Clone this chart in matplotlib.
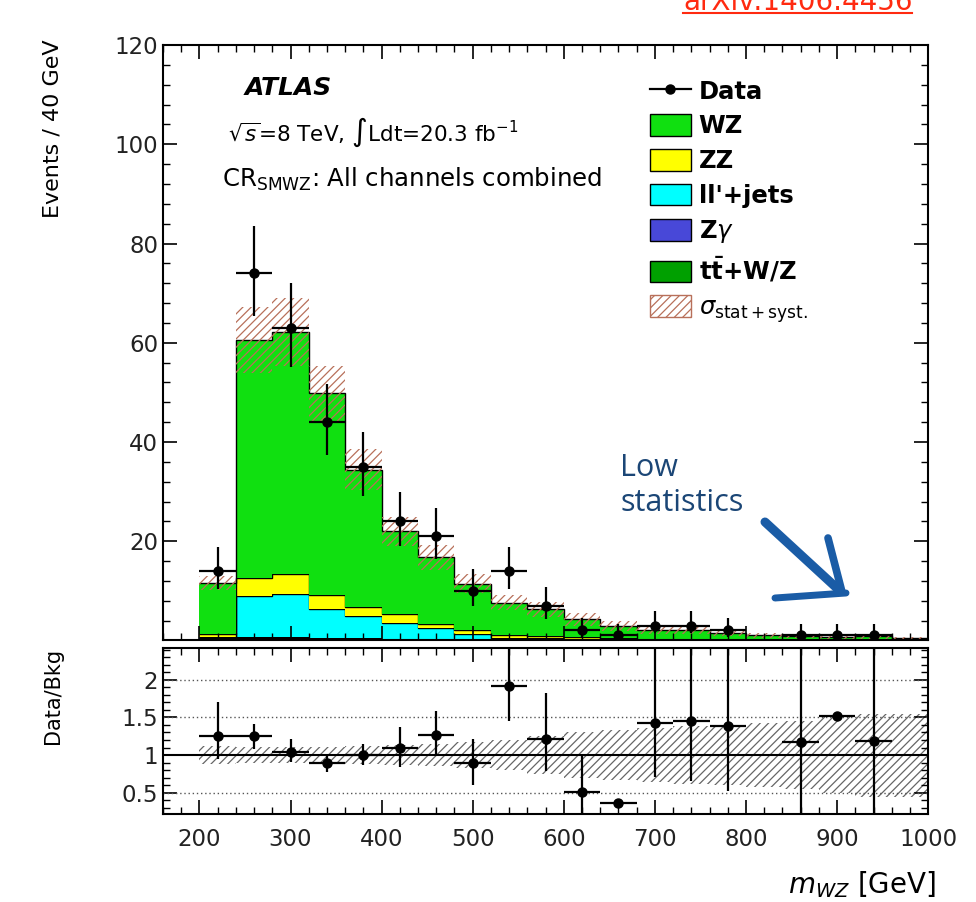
import matplotlib
matplotlib.use("Agg")
import matplotlib.pyplot as plt
import numpy as np
from matplotlib.patches import Patch
from matplotlib.lines import Line2D

plt.rcParams['font.family'] = ['DejaVu Sans']
plt.rcParams['mathtext.fontset'] = 'dejavusans'
plt.rcParams['hatch.linewidth'] = 0.9

# --- binning (m_WZ, 40 GeV bins) ---
edges = np.arange(200, 1040, 40)
centers = edges[:-1] + 20

# --- stacked predictions (events / bin), bottom to top ---
ttv = [0.3, 0.5, 0.5, 0.4, 0.3, 0.3, 0.25, 0.2, 0.15, 0.12, 0.1, 0.08, 0.07, 0.06, 0.05, 0.04, 0.04, 0.03, 0.03, 0.02]
zgam = [0.1, 0.2, 0.2, 0.15, 0.1, 0.08, 0.05, 0.04, 0.03, 0.02, 0.02, 0.01, 0.01, 0.01, 0.01, 0.0, 0.0, 0.0, 0.0, 0.0]
lljets = [0.3, 8.3, 8.7, 5.7, 4.6, 3.2, 2.3, 1.0, 0.4, 0.3, 0.2, 0.15, 0.1, 0.1, 0.05, 0.05, 0.03, 0.02, 0.02, 0.01]
zz = [0.5, 3.6, 3.9, 2.9, 1.8, 1.7, 0.7, 0.8, 0.5, 0.4, 0.3, 0.2, 0.15, 0.12, 0.1, 0.08, 0.06, 0.05, 0.05, 0.03]
wz = [10.4, 47.9, 48.9, 40.65, 27.6, 16.7, 13.5, 9.4, 6.5, 5.4, 3.6, 2.5, 1.8, 1.75, 1.25, 0.83, 0.72, 0.55, 0.74, 0.44]

# relative stat+syst uncertainty of the prediction
rel_unc = [0.12, 0.11, 0.11, 0.11, 0.12, 0.13, 0.15, 0.17, 0.2, 0.25, 0.3, 0.33, 0.36, 0.38, 0.4, 0.42, 0.45, 0.5, 0.55, 0.55]

# --- data ---
data = [14, 74, 63, 44, 35, 24, 21, 10, 14, 7, 2, 1, 3, 3, 2, 0, 1, 1, 1, 0]
data_lo = [3.7, 8.6, 7.9, 6.6, 5.9, 4.9, 4.6, 3.1, 3.7, 2.6, 1.3, 0.8, 1.6, 1.6, 1.3, 0, 0.8, 0.8, 0.8, 0]
data_hi = [4.9, 9.6, 9.0, 7.7, 7.0, 6.0, 5.7, 4.3, 4.9, 3.8, 2.6, 2.3, 2.9, 2.9, 2.6, 0, 2.3, 2.3, 2.3, 0]

# --- ratio panel (data / background) ---
ratio = [1.25, 1.25, 1.04, 0.9, 1.0, 1.1, 1.27, 0.9, 1.91, 1.21, 0.51, 0.37, 1.42, 1.45, 1.39, np.nan, 1.18, 1.52, 1.19, np.nan]
ratio_lo = [0.30, 0.17, 0.13, 0.12, 0.13, 0.26, 0.28, 0.30, 0.46, 0.42, 0.30, 0.02, 0.71, 0.79, 0.86, 0, 1.0, 0.03, 1.0, 0]
ratio_hi = [0.46, 0.16, 0.17, 0.10, 0.15, 0.27, 0.31, 0.31, 0.9, 0.62, 0.50, 0.02, 2.5, 2.5, 2.5, 0, 2.5, 0.03, 2.5, 0]

layers = [ttv, zgam, lljets, zz, wz]
colors = ['#00a000', '#4848d8', '#00ffff', '#ffff00', '#10e010']
labels = [r'$\mathbf{t\bar{t}}$+W/Z', r'Z$\gamma$', "ll'+jets", 'ZZ', 'WZ']
hatch_col = '#b8705a'

fig = plt.figure(figsize=(9.76, 9.02), dpi=100)
ax = fig.add_axes([0.167, 0.290, 0.784, 0.660])
rax = fig.add_axes([0.167, 0.0976, 0.784, 0.184])

# stacked histogram
base = np.zeros(len(centers))
for vals, col in zip(layers, colors):
    top = base + np.array(vals)
    ax.stairs(top, edges, baseline=base, fill=True, color=col, lw=0)
    ax.stairs(top, edges, baseline=None, color='k', lw=1.0)
    base = top
total = base
unc = np.array(rel_unc)
ax.stairs(total * (1 + unc), edges, baseline=total * (1 - unc), fill=True,
          facecolor='none', edgecolor=hatch_col, hatch='////', lw=0)

d = np.array(data, dtype=float)
m = d > 0
ax.errorbar(centers[m], d[m], yerr=[np.array(data_lo)[m], np.array(data_hi)[m]],
            xerr=20, fmt='o', color='k', ms=6.5, lw=1.6, capsize=0)

ax.set_xlim(160, 1000)
ax.set_ylim(0, 120)
ax.set_yticks(np.arange(0, 121, 20))
ax.set_yticklabels([''] + [str(v) for v in range(20, 121, 20)])
ax.set_yticks(np.arange(0, 121, 4), minor=True)
ax.set_xticks(np.arange(200, 1001, 100))
ax.set_xticks(np.arange(160, 1001, 20), minor=True)
ax.tick_params(labelbottom=False)
ax.set_ylabel('Events / 40 GeV', fontsize=16, loc='top')
ax.yaxis.set_label_coords(-0.131, 1.01)

ax.text(0.107, 0.928, 'ATLAS', transform=ax.transAxes, fontsize=18,
        fontweight='bold', fontstyle='italic', va='center')
ax.text(0.085, 0.853, r'$\sqrt{s}$=8 TeV, $\int$Ldt=20.3 fb$^{-1}$',
        transform=ax.transAxes, fontsize=15.5, va='center')
ax.text(0.077, 0.775, r'CR$_{\rm SMWZ}$: All channels combined',
        transform=ax.transAxes, fontsize=17.6, va='center')

handles = [Line2D([], [], color='k', marker='o', ms=6.5, lw=1.6)]
for vals, col in zip(layers[::-1], colors[::-1]):
    handles.append(Patch(facecolor=col, edgecolor='k', lw=1.0))
handles.append(Patch(facecolor='white', edgecolor=hatch_col, hatch='////', lw=1.0))
leg_labels = ['Data'] + labels[::-1] + [r'$\sigma_{\rm stat+syst.}$']
ax.legend(handles, leg_labels, loc='upper left', bbox_to_anchor=(0.637, 0.942),
          frameon=False, prop={'weight': 'bold', 'size': 17.5},
          handlelength=1.65, handleheight=1.0, labelspacing=0.43, handletextpad=0.33,
          borderpad=0, borderaxespad=0)

# ratio panel
rax.stairs(1 + unc, edges, baseline=1 - unc, fill=True, facecolor='none',
           edgecolor='#666666', hatch='////', lw=0)
for yv in [0.5, 1.5, 2.0]:
    rax.axhline(yv, color='#555555', lw=1.0, ls=(0, (1, 2)))
rax.axhline(1.0, color='k', lw=1.5)
r = np.array(ratio)
rm = ~np.isnan(r)
rax.errorbar(centers[rm], r[rm], yerr=[np.array(ratio_lo)[rm], np.array(ratio_hi)[rm]],
             xerr=20, fmt='o', color='k', ms=6.5, lw=1.6, capsize=0)
rax.set_xlim(160, 1000)
rax.set_ylim(0.22, 2.42)
rax.set_yticks([0.5, 1, 1.5, 2])
rax.set_yticklabels(['0.5', '1', '1.5', '2'])
rax.set_yticks(np.arange(0.3, 2.41, 0.1), minor=True)
rax.set_xticks(np.arange(200, 1001, 100))
rax.set_xticks(np.arange(160, 1001, 20), minor=True)
rax.set_ylabel('Data/Bkg', fontsize=15, loc='top')
rax.yaxis.set_label_coords(-0.131, 1.0)
rax.set_xlabel(r'$m_{WZ}$ [GeV]', fontsize=20, loc='right')
rax.xaxis.set_label_coords(1.01, -0.33)

for a in (ax, rax):
    a.tick_params(which='both', direction='in', top=True, right=True,
                  labelsize=16.5, labelcolor='#222222')
    a.tick_params(which='major', length=10, width=1.2)
    a.tick_params(which='minor', length=5, width=1.0)
    a.tick_params(axis='x', pad=10)
    for s in a.spines.values():
        s.set_linewidth(1.5)

# annotation
fig.text(620 / 976, 1 - 453 / 902, 'Low\nstatistics', fontsize=22, family='Open Sans',
         color='#1b4676', va='top', ha='left', linespacing=1.2)
W, H = 976.0, 902.0
arrow_col = '#1a5ca6'
for (x0, y0), (x1, y1), lw in [((765, 522), (840, 591), 6.5), ((775, 598), (846, 593), 5),
                               ((828, 538), (842, 592), 5.5)]:
    fig.add_artist(Line2D([x0 / W, x1 / W], [1 - y0 / H, 1 - y1 / H], color=arrow_col,
                          lw=lw, solid_capstyle='round', transform=fig.transFigure))

# source label (cut by the top edge, as in the original slide)
fig.text(683 / 976, 1 - 10 / 902, 'arXiv:1406.4456', fontsize=20, color='#ff2a10',
         va='baseline', ha='left')
fig.add_artist(Line2D([683 / W, 912 / W], [1 - 13 / H, 1 - 13 / H], color='#ff2a10',
                      lw=1.5, transform=fig.transFigure))

fig.savefig('out.png', dpi=100)
